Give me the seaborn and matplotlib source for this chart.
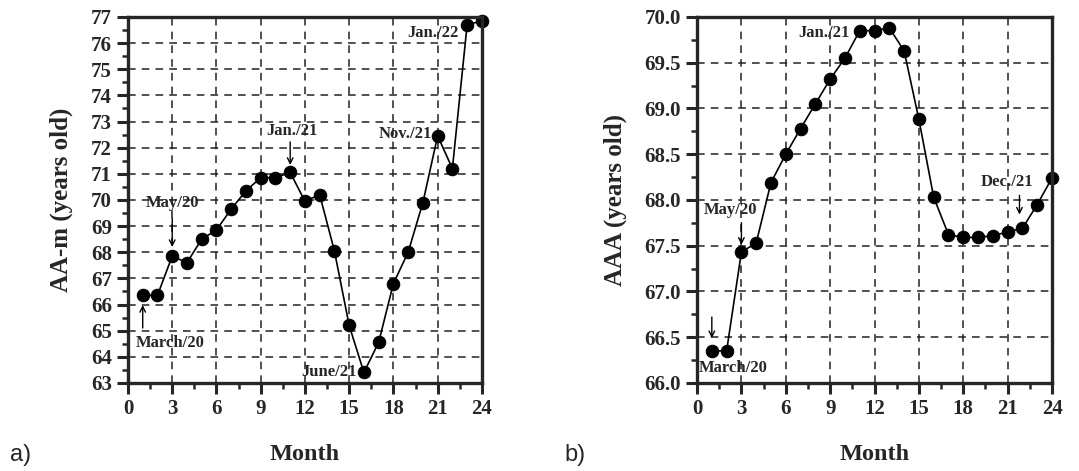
import numpy as np
import pandas as pd
import matplotlib
matplotlib.use('Agg')
import matplotlib.pyplot as plt
from matplotlib.ticker import MultipleLocator
import seaborn as sns

months = list(range(1, 25))
aa_m = [66.35, 66.35, 67.85, 67.6, 68.5, 68.85, 69.65, 70.35, 70.85, 70.85, 71.05, 69.95,
        70.2, 68.05, 65.2, 63.4, 64.55, 66.8, 68.0, 69.9, 72.45, 71.2, 76.7, 76.85]
aaa = [66.35, 66.35, 67.43, 67.53, 68.19, 68.5, 68.78, 69.05, 69.32, 69.55, 69.85, 69.85,
       69.88, 69.63, 68.88, 68.03, 67.62, 67.59, 67.59, 67.61, 67.65, 67.69, 67.95, 68.24]

df = pd.DataFrame({'Month': months, 'AA-m': aa_m, 'AAA': aaa})

sns.set_style('ticks')
plt.rcParams['font.family'] = ['Liberation Serif', 'DejaVu Serif']
plt.rcParams['font.weight'] = 'bold'

fig = plt.figure(figsize=(10.79, 4.71), dpi=100)
ax1 = fig.add_axes([0.1186, 0.187, 0.328, 0.777])
ax2 = fig.add_axes([0.646, 0.187, 0.329, 0.777])

arrow = dict(arrowstyle='->', color='black', lw=1.0, shrinkA=0, shrinkB=0)
fs_ann = 12


def style_axis(ax, ylim, ymajor, yminor, yfmt):
    ax.set_xlim(0, 24)
    ax.set_ylim(*ylim)
    ax.xaxis.set_major_locator(MultipleLocator(3))
    ax.xaxis.set_minor_locator(MultipleLocator(1.5))
    ax.yaxis.set_major_locator(MultipleLocator(ymajor))
    ax.yaxis.set_minor_locator(MultipleLocator(yminor))
    ax.yaxis.set_major_formatter(yfmt)
    ax.grid(True, which='major', linestyle=(0, (5, 4)), color='#222222', linewidth=1.1)
    ax.tick_params(which='major', direction='out', length=8, width=2.2, labelsize=15)
    ax.tick_params(which='minor', direction='out', length=4.5, width=1.8)
    for lab in ax.get_xticklabels() + ax.get_yticklabels():
        lab.set_fontweight('bold')
    for sp in ax.spines.values():
        sp.set_linewidth(2.4)
        sp.set_visible(True)
    for line in ax.lines:
        line.set_clip_on(False)
    ax.set_xlabel('Month', fontsize=17.5, fontweight='bold', labelpad=18)


# panel a
sns.lineplot(data=df, x='Month', y='AA-m', ax=ax1, color='black', marker='o',
             markersize=9, markeredgecolor='black', linewidth=1.2)
style_axis(ax1, (63, 77), 1, 0.5, '{x:.0f}')
ax1.set_ylabel('AA-m (years old)', fontsize=18, fontweight='bold', labelpad=13)

ax1.text(2.85, 64.53, 'March/20', ha='center', va='center', fontsize=fs_ann, fontweight='bold')
ax1.annotate('', xy=(1, 65.98), xytext=(1, 65.1), arrowprops=arrow)
ax1.text(3.05, 69.88, 'May/20', ha='center', va='center', fontsize=fs_ann, fontweight='bold')
ax1.annotate('', xy=(3, 68.2), xytext=(3, 69.31), arrowprops=arrow)
ax1.text(11.1, 72.64, 'Jan./21', ha='center', va='center', fontsize=fs_ann, fontweight='bold')
ax1.annotate('', xy=(11, 71.34), xytext=(11, 72.22), arrowprops=arrow)
ax1.text(20.6, 72.52, 'Nov./21', ha='right', va='center', fontsize=fs_ann, fontweight='bold')
ax1.text(22.45, 76.39, 'Jan./22', ha='right', va='center', fontsize=fs_ann, fontweight='bold')
ax1.text(15.53, 63.42, 'June/21', ha='right', va='center', fontsize=fs_ann, fontweight='bold')

# panel b
sns.lineplot(data=df, x='Month', y='AAA', ax=ax2, color='black', marker='o',
             markersize=9, markeredgecolor='black', linewidth=1.2)
style_axis(ax2, (66, 70), 0.5, 0.25, '{x:.1f}')
ax2.set_ylabel('AAA (years old)', fontsize=18, fontweight='bold', labelpad=13)

ax2.text(10.34, 69.83, 'Jan./21', ha='right', va='center', fontsize=fs_ann, fontweight='bold')
ax2.text(2.23, 67.89, 'May/20', ha='center', va='center', fontsize=fs_ann, fontweight='bold')
ax2.annotate('', xy=(3, 67.51), xytext=(3, 67.75), arrowprops=arrow)
ax2.text(20.96, 68.2, 'Dec./21', ha='center', va='center', fontsize=fs_ann, fontweight='bold')
ax2.annotate('', xy=(21.8, 67.84), xytext=(21.8, 68.05), arrowprops=arrow)
ax2.text(2.43, 66.16, 'March/20', ha='center', va='center', fontsize=fs_ann, fontweight='bold')
ax2.annotate('', xy=(1, 66.49), xytext=(1, 66.72), arrowprops=arrow)

fig.text(0.009, 0.035, 'a)', fontsize=17, family=['Liberation Sans', 'DejaVu Sans'],
         fontweight='normal', va='center')
fig.text(0.523, 0.035, 'b)', fontsize=17, family=['Liberation Sans', 'DejaVu Sans'],
         fontweight='normal', va='center')

fig.savefig('out.png', dpi=100)
